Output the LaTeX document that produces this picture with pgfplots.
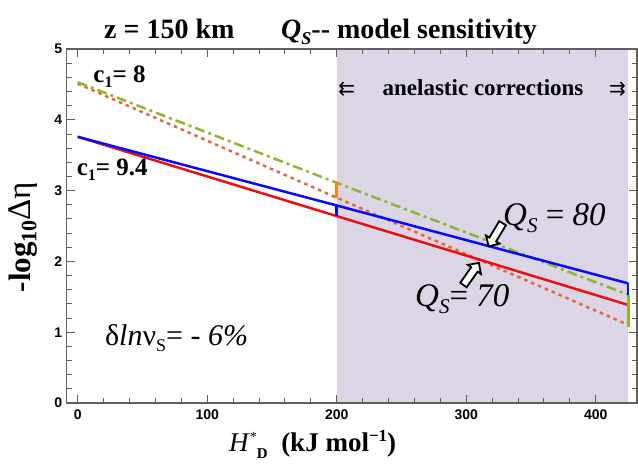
\documentclass[border=0pt]{standalone}
\usepackage{fontspec}
\setmainfont{Liberation Serif}
\setsansfont{Liberation Sans}
\newfontfamily\dejavu{DejaVu Sans}
\usepackage{pgfplots}
\pgfplotsset{compat=1.18}
\usetikzlibrary{shapes.arrows}
\definecolor{shadec}{RGB}{219,213,229}
\definecolor{creamc}{RGB}{255,250,225}
\definecolor{bluec}{RGB}{10,10,250}
\definecolor{redc}{RGB}{235,15,15}
\definecolor{greenc}{RGB}{145,180,50}
\definecolor{dotc}{RGB}{232,100,60}
\definecolor{orangec}{RGB}{255,130,20}
\definecolor{axc}{RGB}{95,95,95}
\begin{document}
\begin{tikzpicture}[x=1pt,y=1pt]
\path[use as bounding box] (-66.7,-68) rectangle (571.3,403);
\begin{axis}[
  at={(0pt,0pt)}, anchor=south west,
  scale only axis, width=570.3pt, height=354pt,
  xmin=-8.5, xmax=431.9, ymin=0, ymax=5,
  xtick={0,100,200,300,400}, ytick={0,1,2,3,4,5},
  minor x tick num=4, minor y tick num=4,
  tick align=inside,
  major tick length=8pt, minor tick length=5pt,
  axis line style={axc, line width=1.5pt},
  every tick/.style={axc, line width=0.9pt},
  /pgf/number format/assume math mode=true,
  ticklabel style={font=\sffamily\bfseries\fontsize{14}{14}\selectfont},
  xticklabel style={yshift=-3pt},
  yticklabel style={xshift=-1pt},
  axis on top,
  clip=false,
]
% shaded anelastic region
\addplot[draw=none, fill=shadec] coordinates {(200,0) (200,5) (425,5) (425,0)} \closedcycle;
\addplot[draw=none, fill=creamc!40] coordinates {(425,0) (425,5) (431.9,5) (431.9,0)} \closedcycle;
\addplot[creamc, line width=1pt] coordinates {(200,0) (200,5)};
% curves
\addplot[dotc, line width=2.5pt, dash pattern=on 3.5pt off 4pt] coordinates {(0,4.51) (200,2.90) (425,1.105)};
\addplot[greenc, line width=2.5pt, dash pattern=on 10pt off 4pt on 3pt off 4pt] coordinates {(0,4.53) (200,3.11) (425,1.53)};
\addplot[redc, line width=2.5pt] coordinates {(0,3.76) (200,2.64) (425,1.385)};
\addplot[bluec, line width=2.5pt] coordinates {(0,3.76) (200,2.79) (425,1.69)};
% vertical connectors
\addplot[bluec, line width=2.5pt] coordinates {(200,2.79) (200,2.64)};
\addplot[orangec, line width=2.5pt] coordinates {(200,3.11) (200,2.90)};
\addplot[bluec, line width=2.5pt] coordinates {(425,1.69) (425,1.53)};
\addplot[greenc, line width=3pt] coordinates {(425,1.53) (425,1.07)};
% annotations
\node[anchor=base west, inner sep=0pt, font=\bfseries\fontsize{25}{25}\selectfont] at (axis cs:12,4.52) {c\raisebox{-5pt}{\fontsize{16}{16}\selectfont 1}= 8};
\node[anchor=base west, inner sep=0pt, font=\bfseries\fontsize{25}{25}\selectfont] at (axis cs:-0.8,3.22) {c\raisebox{-5pt}{\fontsize{16}{16}\selectfont 1}= 9.4};
\node[anchor=base, inner sep=0pt, font=\bfseries\fontsize{23}{23}\selectfont] at (axis cs:313,4.34) {anelastic corrections};
\node[anchor=base, inner sep=0pt, font=\dejavu\fontsize{20}{20}\selectfont] at (axis cs:207.8,4.34) {⇇};
\node[anchor=base, inner sep=0pt, font=\dejavu\fontsize{20}{20}\selectfont] at (axis cs:416.8,4.34) {⇉};
\node[anchor=base west, inner sep=0pt, font=\fontsize{33}{33}\selectfont] at (axis cs:328.4,2.50) {\textit{Q}\raisebox{-7pt}{\fontsize{21}{21}\selectfont\textit{S}} = \textit{80}};
\node[anchor=base west, inner sep=0pt, font=\fontsize{33}{33}\selectfont] at (axis cs:260.5,1.37) {\textit{Q}\raisebox{-7pt}{\fontsize{21}{21}\selectfont\textit{S}}= \textit{70}};
\node[anchor=base west, inner sep=0pt, font=\fontsize{30}{30}\selectfont] at (axis cs:21,0.81) {δ\textit{ln}ν\raisebox{-6pt}{\fontsize{18}{18}\selectfont S}= - \textit{6\%}};
\node[single arrow, draw=black, fill=white, line width=1.8pt, inner sep=3pt, minimum height=27pt, single arrow head extend=4pt, rotate=-121] at (axis cs:323.5,2.40) {};
\node[single arrow, draw=black, fill=white, line width=1.8pt, inner sep=3pt, minimum height=27pt, single arrow head extend=4pt, rotate=55] at (axis cs:303,1.80) {};
\end{axis}
% title
\node[anchor=base west, inner sep=0pt, font=\bfseries\fontsize{28}{28}\selectfont] at (37.3,364) {z = 150 km};
\node[anchor=base west, inner sep=0pt, font=\bfseries\fontsize{28}{28}\selectfont] at (214.3,364) {\textit{Q}\raisebox{-6pt}{\fontsize{18}{18}\selectfont\textit{S}}-{}- model sensitivity};
% x label
\node[anchor=base, inner sep=0pt, font=\fontsize{27}{27}\selectfont] at (246,-49) {\textit{H}\raisebox{10pt}{\fontsize{14}{14}\selectfont *}\raisebox{-7pt}{\bfseries\fontsize{15}{15}\selectfont D}\ \ \textbf{(kJ mol\raisebox{10pt}{\fontsize{17}{17}\selectfont −1})}};
% y label
\node[rotate=90, anchor=center, inner sep=0pt] at (-43.7,166) {\bfseries\fontsize{31}{31}\selectfont -log\raisebox{-6pt}{\fontsize{22}{22}\selectfont 10}\mdseries\fontsize{33}{33}\selectfont Δη};
\end{tikzpicture}
\end{document}
